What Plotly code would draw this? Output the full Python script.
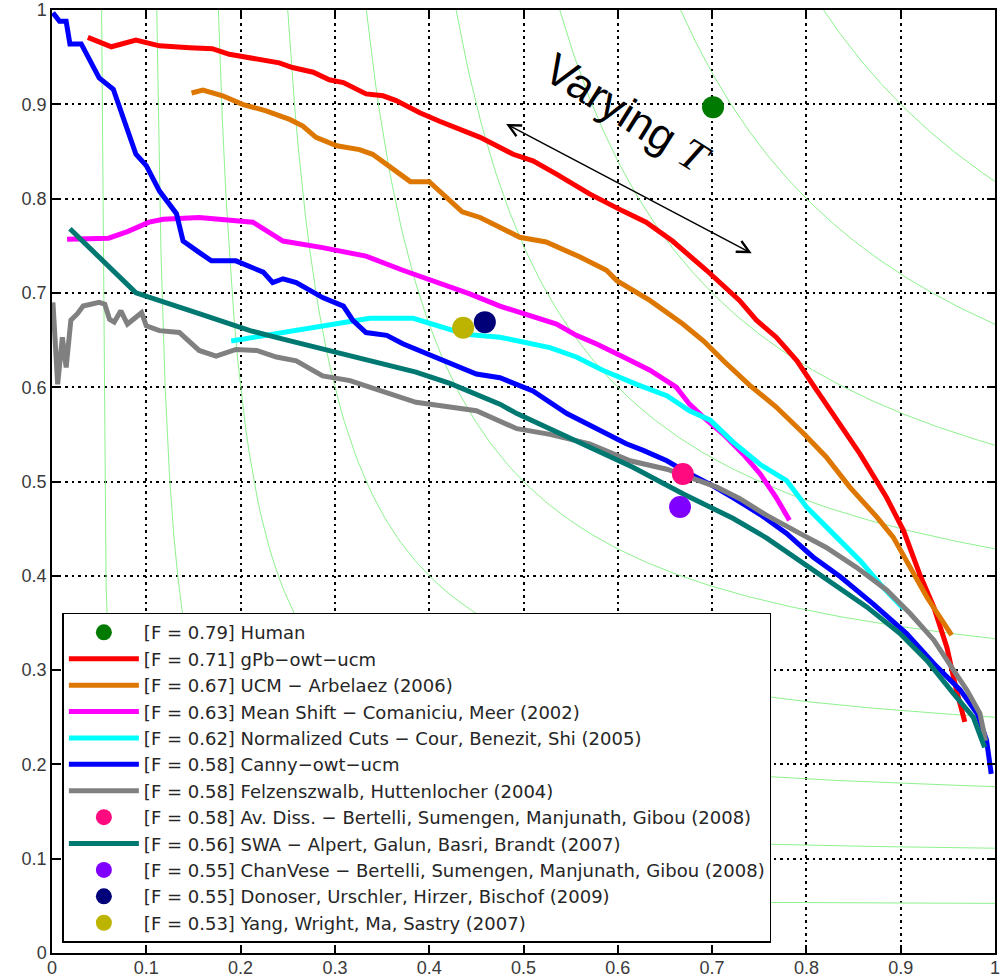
import plotly.graph_objects as go

# ---------------- data (recall, precision) ----------------
gpb_r = [0.038, 0.063, 0.089, 0.114, 0.146, 0.170, 0.188, 0.217, 0.241, 0.255, 0.277, 0.294, 0.309, 0.333, 0.351, 0.365, 0.390, 0.411, 0.454, 0.489, 0.510, 0.535, 0.570, 0.605, 0.630, 0.658, 0.694, 0.729, 0.747, 0.768, 0.790, 0.804, 0.828, 0.857, 0.885, 0.903, 0.920, 0.935, 0.949, 0.959, 0.968]
gpb_p = [0.971, 0.961, 0.968, 0.962, 0.960, 0.959, 0.953, 0.948, 0.944, 0.939, 0.934, 0.926, 0.923, 0.911, 0.909, 0.904, 0.891, 0.882, 0.865, 0.847, 0.840, 0.826, 0.805, 0.787, 0.775, 0.755, 0.724, 0.692, 0.671, 0.653, 0.628, 0.607, 0.572, 0.529, 0.483, 0.448, 0.402, 0.367, 0.324, 0.279, 0.245]

ucm_r = [0.148, 0.160, 0.181, 0.202, 0.227, 0.252, 0.266, 0.280, 0.302, 0.326, 0.340, 0.355, 0.367, 0.380, 0.400, 0.420, 0.435, 0.454, 0.496, 0.524, 0.560, 0.588, 0.599, 0.634, 0.669, 0.691, 0.712, 0.740, 0.768, 0.797, 0.821, 0.846, 0.875, 0.892, 0.910, 0.928, 0.954]
ucm_p = [0.912, 0.915, 0.909, 0.900, 0.893, 0.884, 0.877, 0.865, 0.856, 0.852, 0.847, 0.836, 0.826, 0.818, 0.818, 0.800, 0.786, 0.780, 0.759, 0.754, 0.738, 0.724, 0.713, 0.692, 0.667, 0.649, 0.628, 0.602, 0.579, 0.551, 0.526, 0.494, 0.462, 0.441, 0.409, 0.377, 0.337]

ms_r = [0.016, 0.060, 0.080, 0.103, 0.118, 0.156, 0.213, 0.245, 0.287, 0.333, 0.372, 0.408, 0.443, 0.475, 0.500, 0.535, 0.556, 0.577, 0.606, 0.634, 0.662, 0.676, 0.691, 0.712, 0.733, 0.751, 0.768, 0.782]
ms_p = [0.757, 0.758, 0.765, 0.775, 0.778, 0.780, 0.775, 0.755, 0.748, 0.739, 0.724, 0.711, 0.699, 0.686, 0.678, 0.667, 0.655, 0.646, 0.632, 0.618, 0.600, 0.582, 0.568, 0.550, 0.529, 0.508, 0.483, 0.459]

nc_r = [0.190, 0.245, 0.291, 0.337, 0.383, 0.411, 0.439, 0.475, 0.493, 0.528, 0.556, 0.584, 0.620, 0.652, 0.676, 0.698, 0.722, 0.751, 0.779, 0.800, 0.828, 0.857, 0.881, 0.903]
nc_p = [0.649, 0.658, 0.665, 0.673, 0.673, 0.665, 0.656, 0.653, 0.649, 0.642, 0.632, 0.618, 0.603, 0.591, 0.575, 0.565, 0.542, 0.518, 0.501, 0.473, 0.445, 0.416, 0.388, 0.365]

canny_r = [0.001, 0.008, 0.015, 0.019, 0.031, 0.042, 0.050, 0.065, 0.079, 0.089, 0.100, 0.114, 0.132, 0.139, 0.156, 0.169, 0.195, 0.224, 0.234, 0.245, 0.259, 0.287, 0.309, 0.319, 0.333, 0.355, 0.372, 0.393, 0.422, 0.450, 0.475, 0.510, 0.546, 0.581, 0.609, 0.627, 0.652, 0.669, 0.698, 0.722, 0.751, 0.779, 0.807, 0.836, 0.871, 0.906, 0.935, 0.963, 0.981, 0.991, 0.996]
canny_p = [0.997, 0.988, 0.988, 0.964, 0.964, 0.942, 0.928, 0.916, 0.875, 0.847, 0.835, 0.808, 0.784, 0.755, 0.743, 0.734, 0.734, 0.722, 0.711, 0.715, 0.711, 0.695, 0.686, 0.671, 0.658, 0.655, 0.646, 0.637, 0.625, 0.614, 0.610, 0.596, 0.572, 0.554, 0.540, 0.533, 0.522, 0.512, 0.497, 0.483, 0.465, 0.445, 0.420, 0.399, 0.370, 0.339, 0.307, 0.279, 0.254, 0.226, 0.190]

felz_r = [0.001, 0.004, 0.006, 0.011, 0.015, 0.020, 0.027, 0.033, 0.050, 0.056, 0.061, 0.066, 0.073, 0.080, 0.095, 0.100, 0.114, 0.135, 0.156, 0.174, 0.195, 0.217, 0.238, 0.259, 0.287, 0.316, 0.351, 0.386, 0.422, 0.450, 0.493, 0.528, 0.570, 0.613, 0.652, 0.676, 0.705, 0.729, 0.758, 0.793, 0.821, 0.853, 0.885, 0.910, 0.935, 0.956, 0.970, 0.984, 0.990]
felz_p = [0.690, 0.646, 0.603, 0.653, 0.621, 0.671, 0.678, 0.686, 0.690, 0.688, 0.672, 0.669, 0.681, 0.667, 0.679, 0.665, 0.660, 0.658, 0.639, 0.633, 0.640, 0.639, 0.632, 0.628, 0.612, 0.607, 0.595, 0.584, 0.579, 0.575, 0.556, 0.550, 0.540, 0.522, 0.513, 0.505, 0.494, 0.482, 0.464, 0.445, 0.430, 0.409, 0.385, 0.360, 0.332, 0.300, 0.279, 0.254, 0.225]

swa_r = [0.019, 0.089, 0.156, 0.210, 0.245, 0.316, 0.386, 0.422, 0.475, 0.493, 0.563, 0.616, 0.669, 0.722, 0.758, 0.793, 0.828, 0.864, 0.899, 0.928, 0.956, 0.977, 0.989]
swa_p = [0.768, 0.700, 0.678, 0.660, 0.651, 0.633, 0.616, 0.604, 0.582, 0.572, 0.540, 0.515, 0.487, 0.461, 0.440, 0.416, 0.392, 0.367, 0.339, 0.310, 0.275, 0.250, 0.218]

human_pt = (0.701, 0.897)
avdiss_pt = (0.669, 0.508)
chanvese_pt = (0.666, 0.473)
donoser_pt = (0.459, 0.669)
yang_pt = (0.436, 0.663)

iso_f_levels = [0.1, 0.2, 0.3, 0.4, 0.5, 0.6, 0.7, 0.8, 0.9]
tick_vals = [0, 0.1, 0.2, 0.3, 0.4, 0.5, 0.6, 0.7, 0.8, 0.9, 1]
tick_text = ["0", "0.1", "0.2", "0.3", "0.4", "0.5", "0.6", "0.7", "0.8", "0.9", "1"]

fig = go.Figure()

# iso-F contours
for f in iso_f_levels:
    r0 = f / (2 - f)
    n = 200
    rs = [r0 + (1 - r0) * i / n for i in range(n + 1)]
    ps = [f * r / (2 * r - f) for r in rs]
    fig.add_trace(go.Scatter(x=rs, y=ps, mode="lines", showlegend=False, hoverinfo="skip",
                             line=dict(color="#8DF28D", width=1)))

LW = 5
MS = 22

def pt(name, p, color):
    fig.add_trace(go.Scatter(x=[p[0]], y=[p[1]], mode="markers", name=name,
                             marker=dict(size=MS, color=color)))

def ln(name, r, p, color):
    fig.add_trace(go.Scatter(x=r, y=p, mode="lines", name=name,
                             line=dict(color=color, width=LW)))

pt("[F = 0.79] Human", human_pt, "#007A00")
ln("[F = 0.71] gPb\u2212owt\u2212ucm", gpb_r, gpb_p, "#FF0000")
ln("[F = 0.67] UCM \u2212 Arbelaez (2006)", ucm_r, ucm_p, "#DD7700")
ln("[F = 0.63] Mean Shift \u2212 Comaniciu, Meer (2002)", ms_r, ms_p, "#FF00FF")
ln("[F = 0.62] Normalized Cuts \u2212 Cour, Benezit, Shi (2005)", nc_r, nc_p, "#00FFFF")
ln("[F = 0.58] Canny\u2212owt\u2212ucm", canny_r, canny_p, "#0000FF")
ln("[F = 0.58] Felzenszwalb, Huttenlocher (2004)", felz_r, felz_p, "#808080")
pt("[F = 0.58] Av. Diss. \u2212 Bertelli, Sumengen, Manjunath, Gibou (2008)", avdiss_pt, "#FF0A7F")
ln("[F = 0.56] SWA \u2212 Alpert, Galun, Basri, Brandt (2007)", swa_r, swa_p, "#007872")
pt("[F = 0.55] ChanVese \u2212 Bertelli, Sumengen, Manjunath, Gibou (2008)", chanvese_pt, "#8000FF")
pt("[F = 0.55] Donoser, Urschler, Hirzer, Bischof (2009)", donoser_pt, "#000078")
pt("[F = 0.53] Yang, Wright, Ma, Sastry (2007)", yang_pt, "#BCB400")

# "Varying T" double arrow and label
fig.add_annotation(x=0.742, y=0.742, ax=0.480, ay=0.880, xref="x", yref="y", axref="x", ayref="y",
                   text="", showarrow=True, arrowhead=5, startarrowhead=5, arrowside="end+start",
                   arrowsize=1.6, startarrowsize=1.6, arrowwidth=1.5, arrowcolor="black")
fig.add_annotation(x=0.611, y=0.890, xref="x", yref="y", showarrow=False, textangle=32,
                   text="Varying <span style='font-family:Liberation Serif'><i>T</i></span>",
                   font=dict(family="Liberation Sans", size=44, color="black"))

axis_common = dict(range=[0, 1], tickvals=tick_vals, ticktext=tick_text, showgrid=True,
                   gridcolor="black", gridwidth=1.8, griddash="3px,4px,2px,4px",
                   zeroline=False, showline=True, linecolor="black", linewidth=1.5,
                   ticks="inside", ticklen=8, tickwidth=1.5, tickcolor="black", mirror="ticks",
                   automargin=False, ticklabeloverflow="allow",
                   tickfont=dict(family="Liberation Sans", size=18, color="#3a3a3a"))

fig.update_xaxes(**axis_common, ticklabelstandoff=-2)
fig.update_yaxes(**axis_common)

fig.update_layout(
    width=1002, height=980,
    margin=dict(l=52, r=7, t=10, b=27),
    plot_bgcolor="white", paper_bgcolor="white",
    showlegend=True,
    legend=dict(x=0.011, y=0.011, xanchor="left", yanchor="bottom",
                bgcolor="white", bordercolor="black", borderwidth=1.5,
                font=dict(family="DejaVu Sans", size=18, color="#262626"),
                itemwidth=70, tracegroupgap=0, traceorder="normal"),
)

fig.write_html("out.html", config={"displayModeBar": False},
               post_script="document.body.style.margin='0';document.body.style.overflow='hidden';")
